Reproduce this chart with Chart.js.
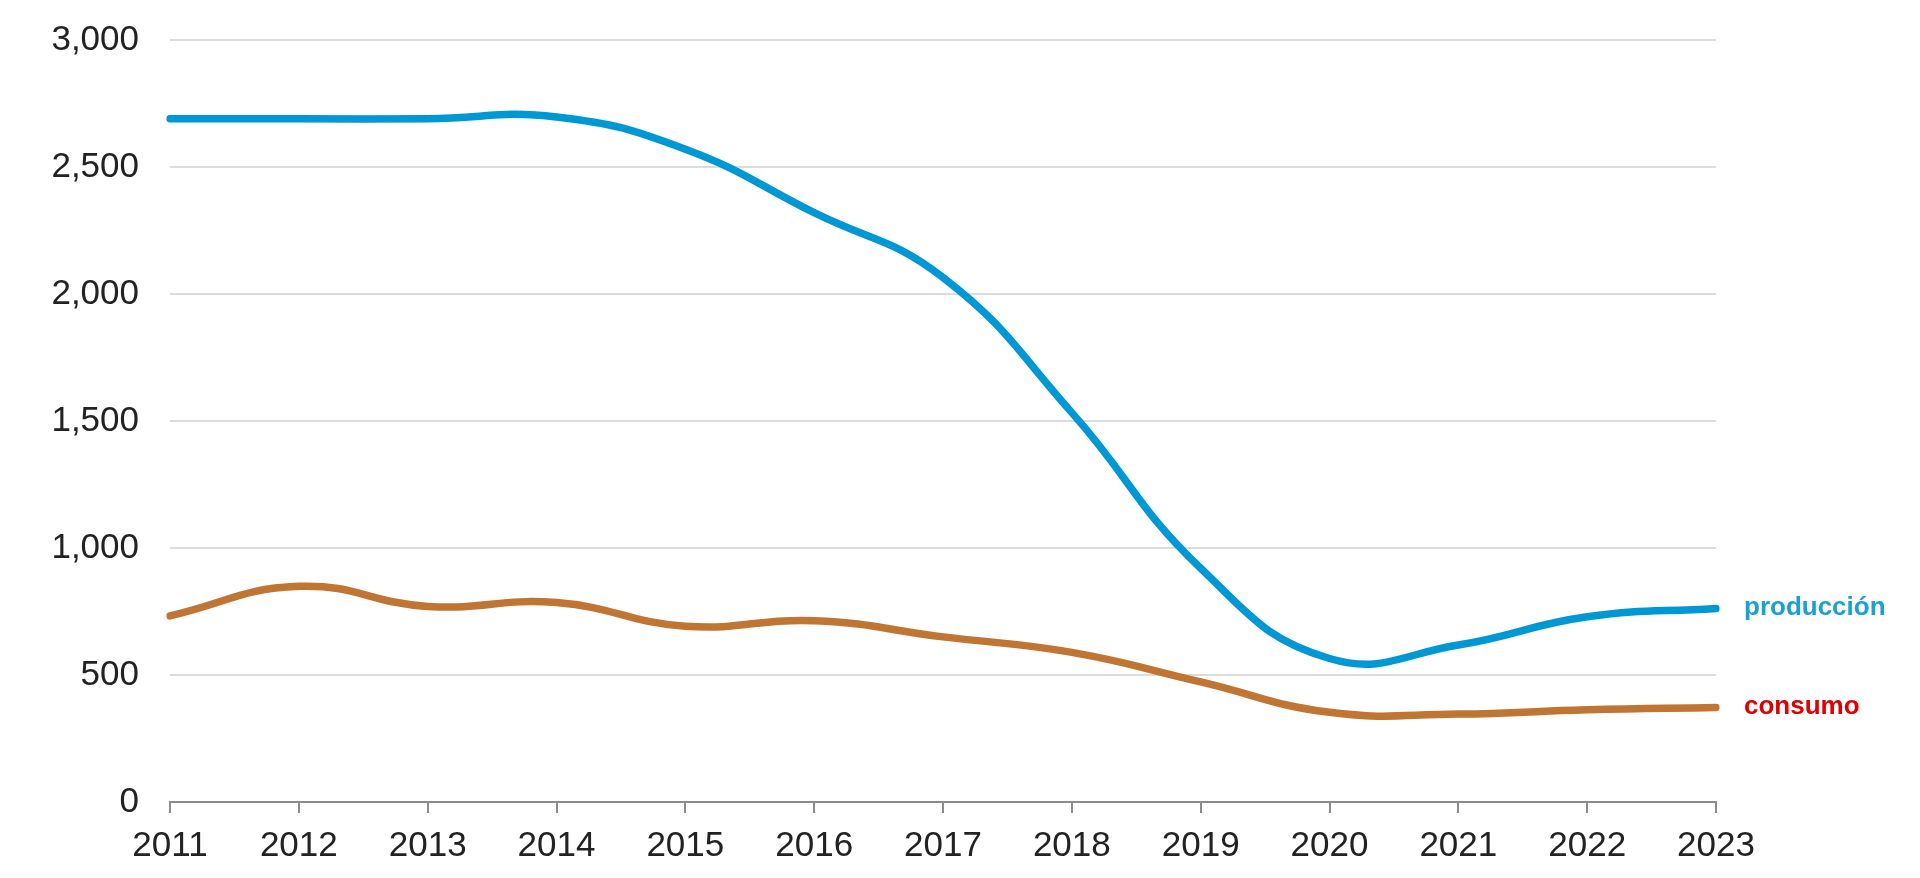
<!DOCTYPE html>
<html>
<head>
<meta charset="utf-8">
<script src="https://cdn.jsdelivr.net/npm/chart.js@4/dist/chart.umd.min.js"></script>
<style>
  html, body { margin: 0; padding: 0; background: #fff; }
  #wrap { width: 1920px; height: 878px; position: relative; }
</style>
</head>
<body>
<div id="wrap"><canvas id="chart" width="1920" height="878"></canvas></div>
<script>
const years = ['2011', '2012', '2013', '2014', '2015', '2016', '2017', '2018', '2019', '2020', '2021', '2022', '2023'];
const produccion = [2690, 2690, 2690, 2697, 2570, 2320, 2065, 1533, 920, 565, 618, 729, 762];
const consumo = [733, 849, 770, 785, 692, 714, 650, 589, 473, 353, 346, 363, 372];
const yTicks = [0, 500, 1000, 1500, 2000, 2500, 3000];

const seriesNames = ['producción', 'consumo'];
const lineColors = ['#0097d5', '#c07532'];
const labelColors = ['#1a9fd6', '#e00000'];

// etiquetas al final de cada línea
const endLabels = {
    id: 'endLabels',
    afterDatasetsDraw(chart) {
        const ctx = chart.ctx;
        const y = chart.scales.y;
        const right = chart.chartArea.right;
        ctx.save();
        ctx.font = 'bold 26px "Liberation Sans", Arial, sans-serif';
        ctx.textBaseline = 'middle';
        ctx.textAlign = 'left';
        chart.data.datasets.forEach((ds, i) => {
            const last = ds.data[ds.data.length - 1];
            ctx.fillStyle = labelColors[i];
            ctx.fillText(seriesNames[i], right + 28, y.getPixelForValue(last) - 1);
        });
        ctx.restore();
    }
};

const tickFont = { family: '"Liberation Sans", Arial, sans-serif', size: 35 };

new Chart(document.getElementById('chart'), {
    type: 'line',
    data: {
        labels: years,
        datasets: [{
            label: seriesNames[0],
            data: produccion,
            borderColor: lineColors[0],
            borderWidth: 7.5,
            tension: 0.45,
            pointRadius: 0,
            borderCapStyle: 'round'
        }, {
            label: seriesNames[1],
            data: consumo,
            borderColor: lineColors[1],
            borderWidth: 7.5,
            tension: 0.45,
            pointRadius: 0,
            borderCapStyle: 'round'
        }]
    },
    options: {
        responsive: false,
        animation: false,
        events: [],
        layout: { padding: { top: 40, right: 204, left: 0, bottom: 0 } },
        plugins: { legend: { display: false }, tooltip: { enabled: false } },
        scales: {
            x: {
                offset: false,
                grid: { drawOnChartArea: false, drawTicks: true, tickLength: 11, color: '#8c8c8c', lineWidth: 2 },
                border: { display: true, color: '#8c8c8c', width: 2 },
                ticks: { color: '#222', font: tickFont, padding: 12, maxRotation: 0, autoSkip: false },
                afterFit(scale) { scale.height = 76; }
            },
            y: {
                min: 0,
                max: 3000,
                afterBuildTicks(scale) { scale.ticks = yTicks.map(v => ({ value: v })); },
                grid: { color: '#dcdcdc', lineWidth: 2, drawTicks: false },
                border: { display: false },
                ticks: {
                    color: '#222',
                    font: tickFont,
                    padding: 31,
                    callback: v => v.toLocaleString('en-US')
                },
                afterFit(scale) {
                    scale.width = 170;
                    scale.paddingTop = 0;
                    scale.paddingBottom = 0;
                }
            }
        }
    },
    plugins: [endLabels]
});
</script>
</body>
</html>
